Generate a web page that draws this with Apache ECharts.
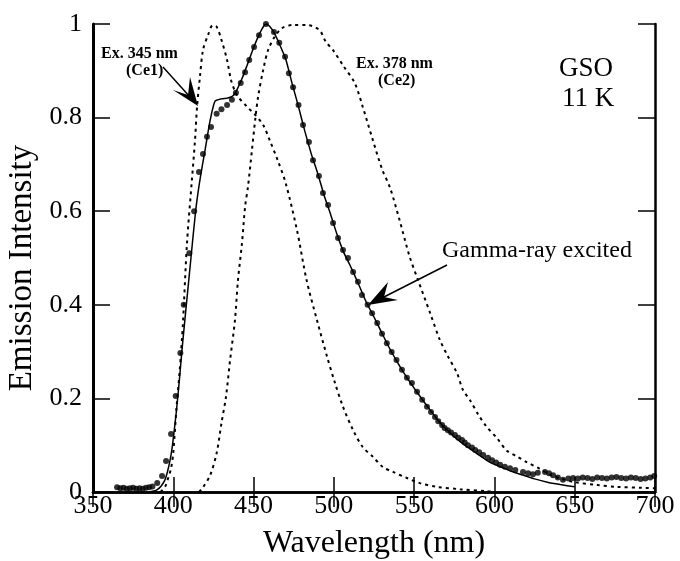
<!DOCTYPE html>
<html><head><meta charset="utf-8">
<script src="https://cdn.jsdelivr.net/npm/echarts/dist/echarts.min.js"></script>
<style>html,body{margin:0;padding:0;background:#fff}#c{width:680px;height:561px}</style>
</head><body><div id="c"></div>
<script>
// Gamma-ray excited emission (dots)
const gammaX = [365,367,369,371,373,375,377,379,381,383,385,387,390,393,395.5,398.6,401.5,404.4,406.5,410,413,416,418.5,421,423.5,427,430,433.5,436.5,439,442,444.7,447.3,450.3,453.4,457.7,462.7,466,469.6,472,474.6,478,480.8,484.5,487,490.7,493.2,496.4,499.5,502.6,505.7,508.8,512,515,517.5,521,523.8,527,530,533,536,539,542.4,545.5,548.6,551.8,555,558,560.5,563,565,567.4,569,571,573,575.4,577.5,579.8,581.5,583.5,586,588,590.5,593,596,598.5,601,603.5,606.5,609.7,613,617.8,621,624,627,631.5,634,636.5,639.5,642.7,646,649,652,655,658,661,664,667,670,673,676,679,682,685,688,691,694,697,699.5];
const gammaY = [0.010,0.008,0.009,0.007,0.008,0.009,0.007,0.008,0.007,0.009,0.010,0.012,0.019,0.034,0.066,0.124,0.205,0.297,0.400,0.510,0.600,0.684,0.722,0.759,0.780,0.808,0.818,0.827,0.838,0.853,0.874,0.897,0.923,0.951,0.976,1.000,0.983,0.960,0.930,0.895,0.865,0.827,0.784,0.748,0.709,0.675,0.639,0.613,0.575,0.543,0.517,0.500,0.470,0.449,0.421,0.400,0.382,0.361,0.338,0.318,0.299,0.282,0.261,0.244,0.233,0.214,0.197,0.182,0.171,0.160,0.151,0.143,0.137,0.132,0.127,0.122,0.116,0.111,0.106,0.100,0.095,0.090,0.085,0.079,0.073,0.068,0.063,0.058,0.054,0.051,0.047,0.043,0.040,0.038,0.041,0.043,0.040,0.036,0.031,0.026,0.029,0.030,0.029,0.031,0.030,0.028,0.031,0.030,0.029,0.031,0.032,0.030,0.029,0.031,0.030,0.028,0.029,0.031,0.034];

// Fitted curve (solid)
const fitX = [385,388,390,392.5,394.8,396.5,398,399.3,400.4,401.7,403,404.2,405.4,408,411,414,416.6,420,423,426,430,434,437,440,443,446,449,452,455,457.7,460,463,466,470,474,478,482,486,490,494,498,502,506,510,515,520,525,530,535,540,545,550,555,560,565,570,575,580,585,590,597,605,610,617.8,625,633,641,650];
const fitY = [0.000,0.002,0.005,0.013,0.026,0.045,0.068,0.095,0.126,0.165,0.210,0.255,0.303,0.395,0.500,0.603,0.667,0.735,0.795,0.835,0.840,0.842,0.846,0.862,0.885,0.912,0.940,0.966,0.988,1.000,0.995,0.980,0.958,0.925,0.873,0.823,0.770,0.722,0.680,0.633,0.593,0.550,0.513,0.485,0.447,0.407,0.374,0.339,0.305,0.275,0.247,0.222,0.198,0.175,0.153,0.134,0.118,0.104,0.092,0.080,0.064,0.052,0.045,0.036,0.028,0.021,0.016,0.011];

// Excitation at 345 nm (Ce1), dashed
const ce1X = [392,395,397,398.6,400,402,404,406,408.5,411.6,413.5,414.8,416.6,418.5,421.6,424.5,427,430,433.5,436,439.7,446,451,456,460,465,470,477,483,489.5,495.7,500.7,505.7,512,518,524.4,530.6,536.8,545.5,553.6,564,578.5,595,600];
const ce1Y = [0.000,0.012,0.032,0.050,0.085,0.180,0.260,0.360,0.530,0.667,0.750,0.823,0.887,0.944,0.976,0.997,0.994,0.966,0.923,0.880,0.848,0.823,0.806,0.784,0.752,0.709,0.660,0.560,0.453,0.367,0.290,0.233,0.182,0.132,0.096,0.075,0.053,0.043,0.030,0.019,0.011,0.006,0.002,0.000];

// Excitation at 378 nm (Ce2), dashed
const ce2X = [416,418.5,423,427,430,432.8,435.3,438.4,440.3,442.8,444.7,446.5,449,451,452.8,456,459,463,467.7,474.6,483,491,495,499.5,506,513,518,524,530,535,541,547,552.4,560,566,571,576.7,580.4,585,590,595,601.6,607.8,614,620,628,634,640,650,664,676,692,700];
const ce2Y = [0.000,0.010,0.036,0.083,0.147,0.203,0.280,0.367,0.453,0.532,0.609,0.652,0.731,0.795,0.844,0.902,0.944,0.972,0.991,0.998,0.998,0.987,0.962,0.944,0.910,0.874,0.823,0.755,0.690,0.650,0.580,0.505,0.453,0.382,0.325,0.290,0.254,0.218,0.195,0.165,0.140,0.115,0.088,0.076,0.064,0.050,0.038,0.030,0.021,0.015,0.011,0.009,0.008];

const xTicks = [350,400,450,500,550,600,650,700];
const yTicks = [0,0.2,0.4,0.6,0.8,1];

const zip = (xs, ys) => xs.map((x, i) => [x, ys[i]]);
const SERIF = '"Liberation Serif","Times New Roman",serif';

const chart = echarts.init(document.getElementById('c'), null, {renderer: 'canvas'});

const axisCommon = {
  type: 'value',
  axisLine: {show: true, lineStyle: {color: '#000', width: 2.5}},
  axisTick: {show: true, inside: true, length: 15, lineStyle: {color: '#000', width: 1.5}},
  splitLine: {show: false}
};

chart.setOption({
  animation: false,
  backgroundColor: '#fff',
  grid: {left: 93, top: 24, right: 25, bottom: 69, containLabel: false, outerBoundsMode: 'none'},
  xAxis: [
    Object.assign({}, axisCommon, {
      position: 'bottom', min: xTicks[0], max: xTicks[xTicks.length-1], interval: 50,
      axisLabel: {color: '#000', fontFamily: SERIF, fontSize: 26, margin: 1},
      name: 'Wavelength (nm)', nameLocation: 'middle', nameGap: 36,
      nameTextStyle: {color: '#000', fontFamily: SERIF, fontSize: 32}
    }),
    Object.assign({}, axisCommon, {
      position: 'top', min: xTicks[0], max: xTicks[xTicks.length-1], interval: 50,
      axisLabel: {show: false}
    })
  ],
  yAxis: [
    Object.assign({}, axisCommon, {
      position: 'left', min: yTicks[0], max: yTicks[yTicks.length-1], interval: 0.2,
      axisLine: {show: true, lineStyle: {color: '#000', width: 3}},
      axisTick: {show: true, inside: true, length: 17, lineStyle: {color: '#000', width: 1.5}},
      axisLabel: {color: '#000', fontFamily: SERIF, fontSize: 26, margin: 11},
      name: 'Emission Intensity', nameLocation: 'middle', nameGap: 46,
      nameTextStyle: {color: '#000', fontFamily: SERIF, fontSize: 33, padding: [0, 20, 0, 0]}
    }),
    Object.assign({}, axisCommon, {
      position: 'right', min: yTicks[0], max: yTicks[yTicks.length-1], interval: 0.2,
      axisTick: {show: true, inside: true, length: 17, lineStyle: {color: '#000', width: 1.5}},
      axisLabel: {show: false}
    })
  ],
  series: [
    {type: 'line', name: 'Ex. 345 nm (Ce1)', data: zip(ce1X, ce1Y), showSymbol: false, smooth: 0.3,
     lineStyle: {color: '#000', width: 2, type: [3, 4]}, z: 2},
    {type: 'line', name: 'Ex. 378 nm (Ce2)', data: zip(ce2X, ce2Y), showSymbol: false, smooth: 0.3,
     lineStyle: {color: '#000', width: 2, type: [3, 4]}, z: 2},
    {type: 'line', name: 'fit', data: zip(fitX, fitY), showSymbol: false, smooth: 0.2,
     lineStyle: {color: '#000', width: 1.5}, z: 3},
    {type: 'scatter', name: 'Gamma-ray excited', data: zip(gammaX, gammaY), symbolSize: 6,
     itemStyle: {color: '#000'}, z: 4}
  ],
  graphic: [
    {type: 'text', left: 101, top: 46, style: {text: 'Ex. 345 nm', font: 'bold 16px ' + SERIF, fill: '#000'}},
    {type: 'text', left: 126, top: 63, style: {text: '(Ce1)', font: 'bold 16px ' + SERIF, fill: '#000'}},
    {type: 'polyline', shape: {points: [[163, 67], [190, 97]]}, style: {stroke: '#000', lineWidth: 1.5}},
    {type: 'polygon', shape: {points: [[198, 106], [173, 90], [188, 95], [190, 77]]}, style: {fill: '#000'}},
    {type: 'text', left: 356, top: 56, style: {text: 'Ex. 378 nm', font: 'bold 16px ' + SERIF, fill: '#000'}},
    {type: 'text', left: 378, top: 73, style: {text: '(Ce2)', font: 'bold 16px ' + SERIF, fill: '#000'}},
    {type: 'text', left: 559, top: 55, style: {text: 'GSO', font: '27px ' + SERIF, fill: '#000'}},
    {type: 'text', left: 562, top: 85, style: {text: '11 K', font: '27px ' + SERIF, fill: '#000'}},
    {type: 'text', left: 442, top: 239, style: {text: 'Gamma-ray excited', font: '24px ' + SERIF, fill: '#000'}},
    {type: 'polyline', shape: {points: [[447, 265], [380, 299]]}, style: {stroke: '#000', lineWidth: 1.5}},
    {type: 'polygon', shape: {points: [[368, 305], [388, 282], [384, 297], [398, 300]]}, style: {fill: '#000'}}
  ]
});
</script>
</body></html>
